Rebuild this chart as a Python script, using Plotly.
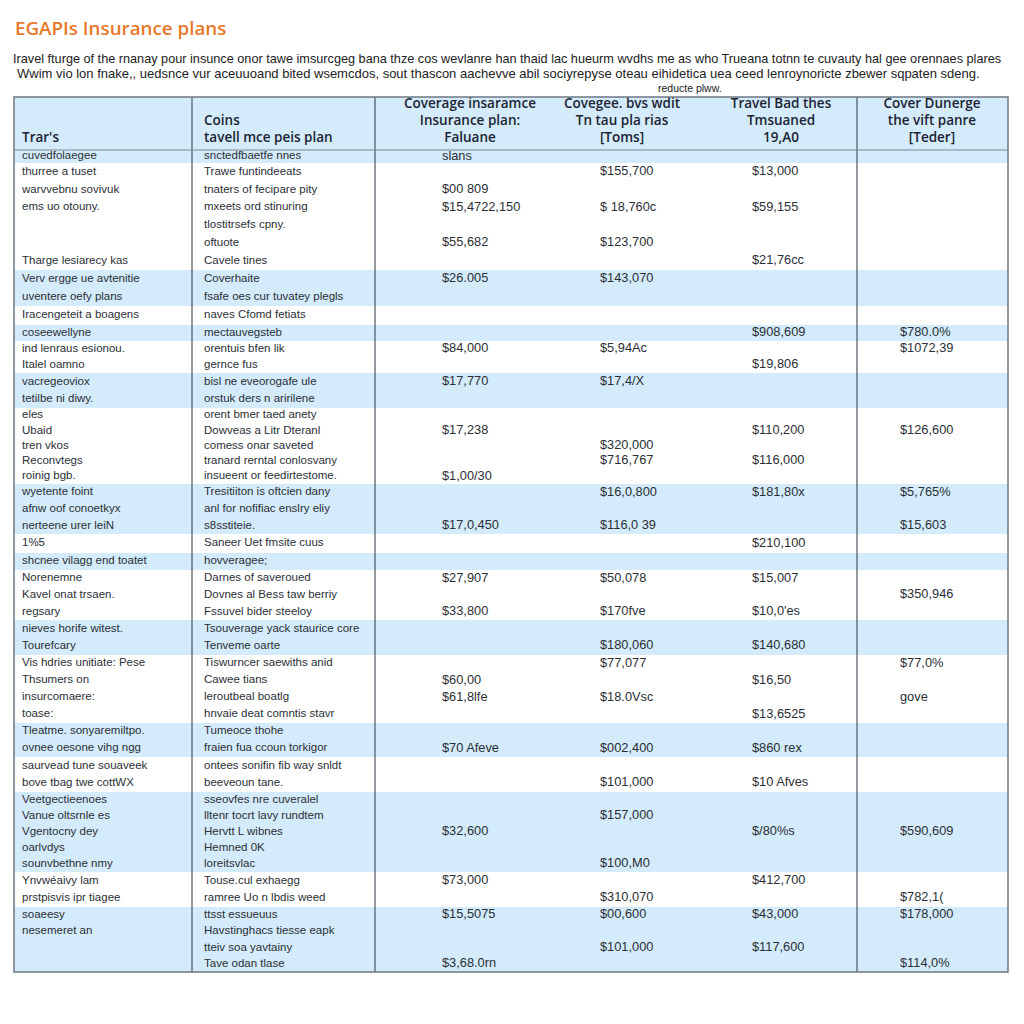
import plotly.graph_objects as go

# ---------------- data ----------------
title_text = "EGAPIs Insurance plans"
subtitle_lines = [
    "Iravel fturge of the rnanay pour insunce onor tawe imsurcgeg bana thze cos wevlanre han thaid lac hueurm wvdhs me as who Trueana totnn te cuvauty hal gee orennaes plares",
    "Wwim vio lon fnake,, uedsnce vur aceuuoand bited wsemcdos, sout thascon aachevve abil sociyrepyse oteau eihidetica uea ceed lenroynoricte zbewer sqpaten sdeng.",
]
subtitle_tail = "reducte plww."

header_line1 = ["", "", "Coverage insaramce", "Covegee. bvs wdit", "Travel Bad thes", "Cover Dunerge"]
header_line2 = ["", "Coins", "Insurance plan:", "Tn tau pla rias", "Tmsuaned", "the vift panre"]
header_line3 = ["Trar's", "tavell mce peis plan", "Faluane", "[Toms]", "19,A0", "[Teder]"]

# number of text lines in each shaded band (alternating blue / white)
band_line_counts = [1, 6, 2, 1, 1, 2, 2, 5, 3, 1, 1, 3, 2, 4, 2, 2, 5, 2, 4]

plan_names = [
    "cuvedfolaegee", "thurree a tuset", "warvvebnu sovivuk", "ems uo otouny.", "", "",
    "Tharge lesiarecy kas", "Verv ergge ue avtenitie", "uventere oefy plans",
    "Iracengeteit a boagens", "coseewellyne", "ind lenraus esionou.", "Italel oamno",
    "vacregeoviox", "tetilbe ni diwy.", "eles", "Ubaid", "tren vkos", "Reconvtegs",
    "roinig bgb.", "wyetente foint", "afnw oof conoetkyx", "nerteene urer leiN", "1%5",
    "shcnee vilagg end toatet", "Norenemne", "Kavel onat trsaen.", "regsary",
    "nieves horife witest.", "Tourefcary", "Vis hdries unitiate: Pese", "Thsumers on",
    "insurcomaere:", "toase:", "Tleatme. sonyaremiltpo.", "ovnee oesone vihg ngg",
    "saurvead tune souaveek", "bove tbag twe cottWX", "Veetgectieenoes",
    "Vanue oltsrnle es", "Vgentocny dey", "oarlvdys", "sounvbethne nmy",
    "Ynvwéaivy lam", "prstpisvis ipr tiagee", "soaeesy", "nesemeret an", "", "",
]

plan_details = [
    "snctedfbaetfe nnes", "Trawe funtindeeats", "tnaters of fecipare pity",
    "mxeets ord stinuring", "tlostitrsefs cpny.", "oftuote", "Cavele tines",
    "Coverhaite", "fsafe oes cur tuvatey plegls", "naves Cfomd fetiats",
    "mectauvegsteb", "orentuis bfen lik", "gernce fus", "bisl ne eveorogafe ule",
    "orstuk ders n aririlene", "orent bmer taed anety", "Dowveas a Litr Dteranl",
    "comess onar saveted", "tranard rerntal conlosvany", "insueent or feedirtestome.",
    "Tresitiiton is oftcien dany", "anl for nofifiac enslry eliy", "s8sstiteie.",
    "Saneer Uet fmsite cuus", "hovveragee;", "Darnes of saveroued",
    "Dovnes al Bess taw berriy", "Fssuvel bider steeloy", "Tsouverage yack staurice core",
    "Tenveme oarte", "Tiswurncer saewiths anid", "Cawee tians", "leroutbeal boatlg",
    "hnvaie deat comntis stavr", "Tumeoce thohe", "fraien fua ccoun torkigor",
    "ontees sonifin fib way snldt", "beeveoun tane.", "sseovfes nre cuveralel",
    "lltenr tocrt lavy rundtem", "Hervtt L wibnes", "Hemned 0K", "loreitsvlac",
    "Touse.cul exhaegg", "ramree Uo n lbdis weed", "ttsst essueuus",
    "Havstinghacs tiesse eapk", "tteiv soa yavtainy", "Tave odan tlase",
]

# values keyed by text-line index
coverage_values = {0: "slans", 2: "$00 809", 3: "$15,4722,150", 5: "$55,682", 7: "$26.005",
                   11: "$84,000", 13: "$17,770", 16: "$17,238", 19: "$1,00/30", 22: "$17,0,450",
                   25: "$27,907", 27: "$33,800", 31: "$60,00", 32: "$61,8lfe", 35: "$70 Afeve",
                   40: "$32,600", 43: "$73,000", 45: "$15,5075", 48: "$3,68.0rn"}
plan_rate_values = {1: "$155,700", 3: "$ 18,760c", 5: "$123,700", 7: "$143,070", 11: "$5,94Ac",
                    13: "$17,4/X", 17: "$320,000", 18: "$716,767", 20: "$16,0,800",
                    22: "$116,0 39", 25: "$50,078", 27: "$170fve", 29: "$180,060",
                    30: "$77,077", 32: "$18.0Vsc", 35: "$002,400", 37: "$101,000",
                    39: "$157,000", 42: "$100,M0", 44: "$310,070", 45: "$00,600",
                    47: "$101,000"}
travel_values = {1: "$13,000", 3: "$59,155", 6: "$21,76cc", 10: "$908,609", 12: "$19,806",
                 16: "$110,200", 18: "$116,000", 20: "$181,80x", 23: "$210,100",
                 25: "$15,007", 27: "$10,0'es", 29: "$140,680", 31: "$16,50",
                 33: "$13,6525", 35: "$860 rex", 37: "$10 Afves", 40: "$/80%s",
                 43: "$412,700", 45: "$43,000", 47: "$117,600"}
cover_values = {10: "$780.0%", 11: "$1072,39", 16: "$126,600", 20: "$5,765%", 22: "$15,603",
                26: "$350,946", 30: "$77,0%", 32: "gove", 40: "$590,609", 44: "$782,1(",
                45: "$178,000", 48: "$114,0%"}

# ---------------- layout constants (pixel space of the page) ----------------
PAGE = 1024
BODY_MARGIN = 8
BLUE = "#d3ebfa"
WHITE = "#ffffff"
TXT = "#2b2f36"
col_edges = [14, 192, 375, 565, 691, 857, 1008]
table_top, header_bottom = 97, 150
band_px_heights = [13, 107, 36, 19, 16, 32, 35, 76, 50, 19, 17, 50, 35, 68, 34, 35, 80, 35, 65]
header_line_y = [105, 122, 139]
text_x = [22, 204, 442, 600, 752, 900]          # left anchors of cell text
header_x = [22, 204, 470, 622, 781, 932]
header_align = ["left", "left", "center", "center", "center", "center"]

# band boundaries and per-line y centres
band_tops = [header_bottom]
for h in band_px_heights:
    band_tops.append(band_tops[-1] + h)
table_bottom = band_tops[-1]
line_y = []
for b, cnt in enumerate(band_line_counts):
    pitch = band_px_heights[b] / cnt
    for j in range(cnt):
        line_y.append(band_tops[b] + (j + 0.5) * pitch)
n_lines = len(line_y)

fig = go.Figure()

body_font = dict(family="Liberation Sans", size=11.5, color=TXT)
value_font = dict(family="Liberation Sans", size=12.8, color=TXT)


def add_column(texts_by_line, xpos, font):
    idx = [i for i in range(n_lines) if texts_by_line.get(i, "")]
    fig.add_trace(go.Scatter(
        x=[xpos] * len(idx), y=[line_y[i] for i in idx],
        text=[texts_by_line[i] for i in idx], mode="text",
        textposition="middle right", textfont=font,
        hoverinfo="skip", showlegend=False, cliponaxis=False))


add_column(dict(enumerate(plan_names)), text_x[0], body_font)
add_column(dict(enumerate(plan_details)), text_x[1], body_font)
add_column(coverage_values, text_x[2], value_font)
add_column(plan_rate_values, text_x[3], value_font)
add_column(travel_values, text_x[4], value_font)
add_column(cover_values, text_x[5], value_font)

# header text
hdr_font = dict(family="Open Sans", size=13.5, color="#1c2433", weight=600)
for k, line in enumerate([header_line1, header_line2, header_line3]):
    for c, label in enumerate(line):
        if not label:
            continue
        fig.add_trace(go.Scatter(
            x=[header_x[c]], y=[header_line_y[k]], text=[label], mode="text",
            textposition="middle right" if header_align[c] == "left" else "middle center",
            textfont=hdr_font, hoverinfo="skip", showlegend=False, cliponaxis=False))

# shapes: header fill, bands, grid lines, border
shapes = [dict(type="rect", x0=col_edges[0], x1=col_edges[-1], y0=table_top, y1=header_bottom,
               fillcolor=BLUE, line=dict(width=0), layer="below")]
for b in range(len(band_px_heights)):
    shapes.append(dict(type="rect", x0=col_edges[0], x1=col_edges[-1],
                       y0=band_tops[b], y1=band_tops[b + 1],
                       fillcolor=BLUE if b % 2 == 0 else WHITE, line=dict(width=0), layer="below"))
for xi in (col_edges[1], col_edges[2], col_edges[5]):
    shapes.append(dict(type="line", x0=xi, x1=xi, y0=table_top, y1=table_bottom,
                       line=dict(color="#4a5560", width=1.2)))
shapes.append(dict(type="line", x0=col_edges[0], x1=col_edges[-1], y0=header_bottom, y1=header_bottom,
                   line=dict(color="#7d8790", width=1)))
shapes.append(dict(type="rect", x0=col_edges[0], x1=col_edges[-1], y0=table_top, y1=table_bottom,
                   line=dict(color="#6f7780", width=1.5)))

annotations = [
    dict(text=title_text, x=13, y=28, xanchor="left", yanchor="middle", showarrow=False,
         font=dict(family="Open Sans", size=18.8, color="#e8782a", weight=600)),
    dict(text=subtitle_lines[0], x=11, y=59, xanchor="left", yanchor="middle", showarrow=False,
         font=dict(family="Liberation Sans", size=12.7, color="#222")),
    dict(text=subtitle_lines[1], x=15, y=73, xanchor="left", yanchor="middle", showarrow=False,
         font=dict(family="Liberation Sans", size=13.0, color="#222")),
    dict(text=subtitle_tail, x=690, y=88, xanchor="center", yanchor="middle", showarrow=False,
         font=dict(family="Liberation Sans", size=10.5, color="#222")),
]

span = PAGE - BODY_MARGIN
fig.update_layout(
    width=span, height=span, margin=dict(l=0, r=0, t=0, b=0),
    paper_bgcolor="white", plot_bgcolor="white",
    xaxis=dict(range=[BODY_MARGIN, PAGE], visible=False, fixedrange=True),
    yaxis=dict(range=[PAGE, BODY_MARGIN], visible=False, fixedrange=True),
    shapes=shapes, annotations=annotations,
)
fig.write_html("out.html")
